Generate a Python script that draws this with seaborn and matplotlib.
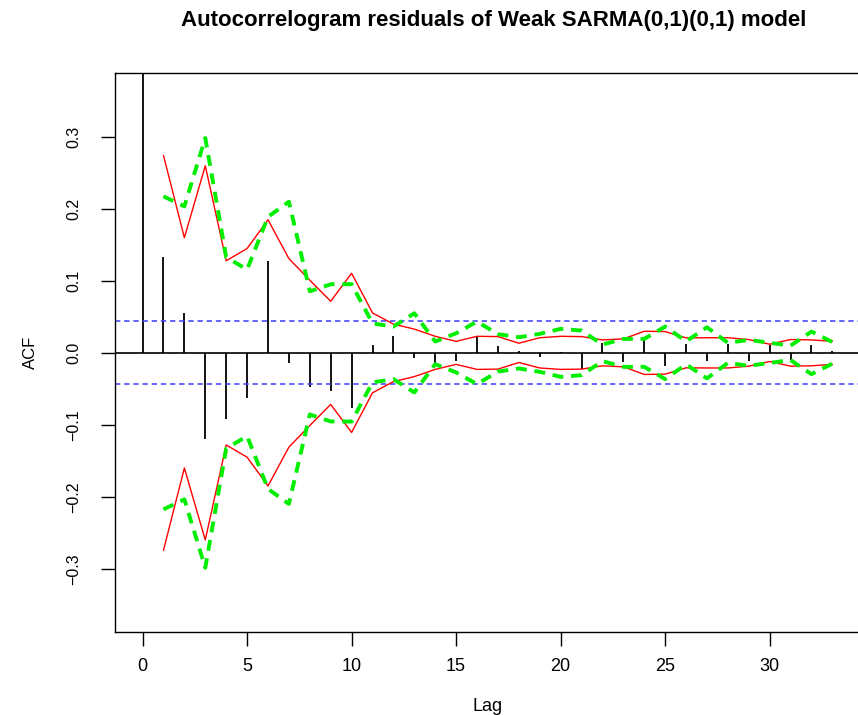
import numpy as np
import pandas as pd
import matplotlib
matplotlib.use("Agg")
import matplotlib.pyplot as plt
import seaborn as sns

# ACF of residuals, lags 0..33
lags = list(range(0, 34))
acf_vals = [1.0, 0.133, 0.0556, -0.120, -0.0917, -0.063, 0.127, -0.0135, -0.0477,
            -0.053, -0.077, 0.011, 0.023, -0.0075, -0.0144, -0.011, 0.023, 0.0101,
            0.003, -0.0056, 0.001, -0.0227, 0.013, -0.013, 0.022, -0.0176, 0.0125,
            -0.012, 0.0125, -0.0116, 0.0104, -0.0093, 0.0111, 0.002]

# weak (red) and strong (green) bounds, lags 1..33 (symmetric)
band_lags = list(range(1, 34))
weak_bound = [0.2745, 0.160, 0.260, 0.128, 0.145, 0.185, 0.131, 0.101, 0.0717, 0.1106,
              0.0555, 0.040, 0.033, 0.023, 0.016, 0.023, 0.0226, 0.0134, 0.021, 0.023,
              0.0226, 0.018, 0.0194, 0.030, 0.0296, 0.0208, 0.021, 0.021, 0.0185, 0.012,
              0.0185, 0.018, 0.016]
green_bound = [0.2175, 0.2036, 0.2986, 0.133, 0.1157, 0.189, 0.210, 0.0856, 0.0953, 0.0955,
               0.041, 0.0365, 0.055, 0.0157, 0.0272, 0.0435, 0.026, 0.0217, 0.0264, 0.0333,
               0.031, 0.0115, 0.0194, 0.0194, 0.0365, 0.016, 0.0355, 0.014, 0.018, 0.014,
               0.010, 0.0296, 0.015]
white_noise = 0.0438

sns.set_style("ticks")
plt.rcParams["font.family"] = ["Liberation Sans", "DejaVu Sans"]
plt.rcParams["text.color"] = "black"
plt.rcParams["axes.labelcolor"] = "black"

fig = plt.figure(figsize=(8.58, 7.15), dpi=100)
ax = fig.add_axes([0.134, 0.116, 0.8683, 0.782])

ax.vlines(lags, 0, acf_vals, color="black", lw=1.3)
ax.axhline(0, color="black", lw=1.2)
ax.axhline(white_noise, color="#3a3aff", lw=1.1, linestyle=(0, (3.5, 2.5)))
ax.axhline(-white_noise, color="#3a3aff", lw=1.1, linestyle=(0, (3.5, 2.5)))

df = pd.DataFrame({"lag": band_lags, "weak": weak_bound, "green": green_bound})
for sign in (1, -1):
    sns.lineplot(x=df["lag"], y=sign * df["weak"], color="#ff0000", lw=1.0, ax=ax)
    sns.lineplot(x=df["lag"], y=sign * df["green"], color="#00ee00", lw=2.8,
                 linestyle=(0, (2.8, 2.0)), ax=ax)

ax.set_xlim(-1.32, 34.32)
ax.set_ylim(-0.388, 0.389)
ax.set_xticks([0, 5, 10, 15, 20, 25, 30])
ax.set_yticks([-0.3, -0.2, -0.1, 0.0, 0.1, 0.2, 0.3])
ax.set_yticklabels(["\u22120.3", "\u22120.2", "\u22120.1", "0.0", "0.1", "0.2", "0.3"],
                   rotation=90, va="center")
ax.tick_params(axis="both", direction="out", length=10, width=1.0,
               color="black", labelcolor="black")
ax.tick_params(axis="x", pad=9, labelsize=13)
ax.tick_params(axis="y", pad=14, labelsize=11.5)
for s in ax.spines.values():
    s.set_color("black")
    s.set_linewidth(1.0)

ax.set_xlabel("Lag", fontsize=13, labelpad=16)
ax.set_ylabel("ACF", fontsize=12, labelpad=21)
fig.text(0.575, 0.972, "Autocorrelogram residuals of Weak SARMA(0,1)(0,1) model",
         ha="center", va="center", fontsize=16, fontweight="bold")

fig.savefig("out.png", dpi=100)
